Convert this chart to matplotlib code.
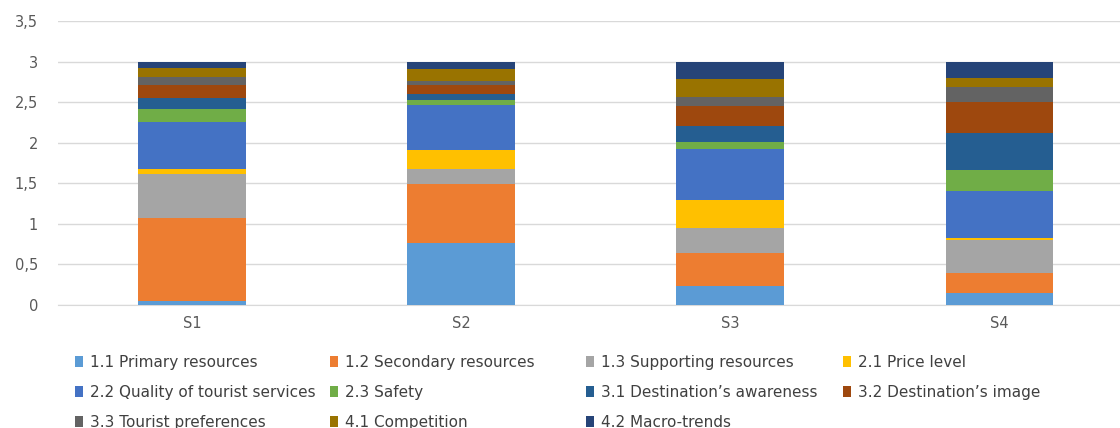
import numpy as np
import matplotlib
matplotlib.use('Agg')
import matplotlib.pyplot as plt

plt.rcParams['font.family'] = ['DejaVu Sans']

scenarios = ['S1', 'S2', 'S3', 'S4']
factors = ['1.1 Primary resources', '1.2 Secondary resources', '1.3 Supporting resources',
           '2.1 Price level', '2.2 Quality of tourist services', '2.3 Safety',
           '3.1 Destination\u2019s awareness', '3.2 Destination\u2019s image',
           '3.3 Tourist preferences', '4.1 Competition', '4.2 Macro-trends']

# one row per factor, one column per scenario
values = np.array([
    [0.05, 0.77, 0.23, 0.15],
    [1.02, 0.72, 0.41, 0.25],
    [0.54, 0.185, 0.315, 0.395],
    [0.06, 0.23, 0.345, 0.035],
    [0.58, 0.56, 0.625, 0.57],
    [0.165, 0.06, 0.08, 0.265],
    [0.13, 0.08, 0.20, 0.46],
    [0.165, 0.105, 0.245, 0.38],
    [0.10, 0.05, 0.115, 0.18],
    [0.115, 0.145, 0.215, 0.115],
    [0.07, 0.09, 0.215, 0.20],
])

colors = ['#5B9BD5', '#ED7D31', '#A5A5A5', '#FFC000', '#4472C4', '#70AD47',
          '#255E91', '#9E480E', '#636363', '#997300', '#264478']

fig = plt.figure(figsize=(11.2, 4.28), dpi=100)
# plot area runs a bit past the right edge, like the original
ax = fig.add_axes([57.5 / 1120, (428 - 305) / 428, (1120 - 57.5) / 1120, (305 - 21) / 428])

x = np.arange(len(scenarios))
bottom = np.zeros(len(scenarios))
handles = []
for i, name in enumerate(factors):
    h = ax.bar(x, values[i], 0.4, bottom=bottom, color=colors[i], label=name, zorder=3)
    handles.append(h)
    bottom += values[i]

ax.set_ylim(0, 3.5)
ax.set_xlim(-0.5, 3.5 - 14 / 269)
ax.set_yticks(np.arange(0, 3.51, 0.5))
ax.set_yticklabels(['0', '0,5', '1', '1,5', '2', '2,5', '3', '3,5'])
ax.set_xticks(x)
ax.set_xticklabels(scenarios)
ax.tick_params(length=0, colors='#595959', labelsize=10.5)
ax.tick_params(axis='y', pad=14)
ax.tick_params(axis='x', pad=8)
ax.grid(axis='y', color='#D9D9D9', linewidth=1, zorder=0)
for s in ['top', 'right', 'left']:
    ax.spines[s].set_visible(False)
ax.spines['bottom'].set_color('#D9D9D9')

# legend: fixed-width columns, filled row by row
columns = [[0, 4, 8], [1, 5, 9], [2, 6, 10], [3, 7]]
col_x = [61, 316, 572, 829]
for idx, cx in zip(columns, col_x):
    fig.legend([handles[i] for i in idx], [factors[i] for i in idx],
               loc='upper left', bbox_to_anchor=(cx / 1120, 1 - 341 / 428),
               frameon=False, fontsize=11, handlelength=0.55, handleheight=0.8,
               handletextpad=0.45, labelspacing=0.98, labelcolor='#404040')

fig.savefig('out.png', dpi=100, facecolor='white')
